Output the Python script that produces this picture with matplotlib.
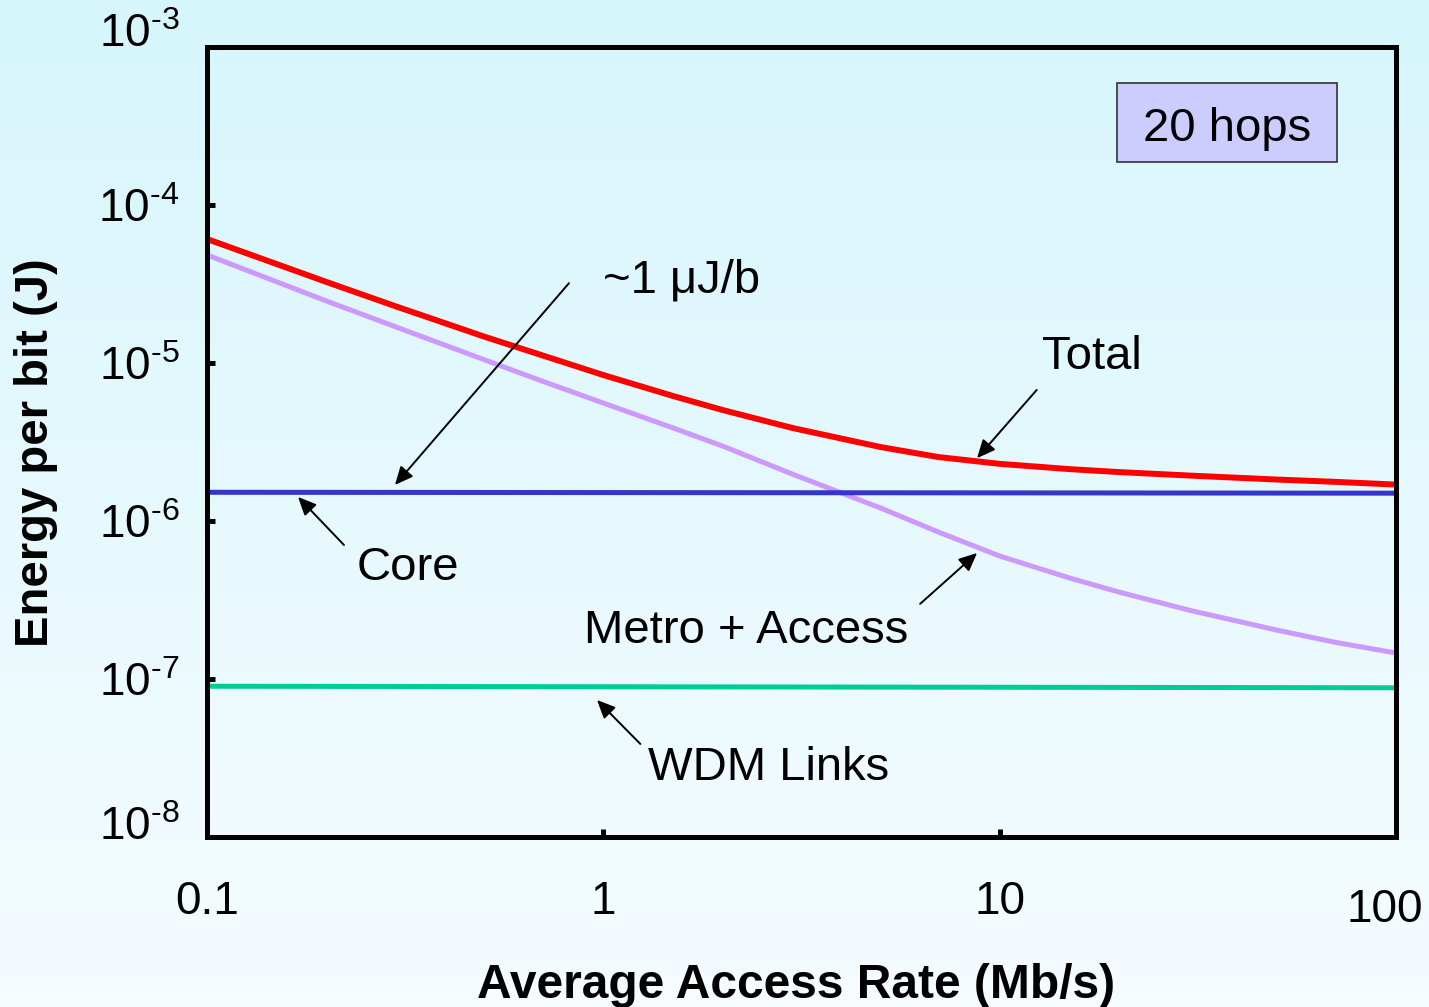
import matplotlib
matplotlib.use('Agg')
import matplotlib.pyplot as plt
import numpy as np
from matplotlib.patches import Rectangle
from matplotlib.transforms import ScaledTranslation

plt.rcParams['font.family'] = ['Liberation Sans', 'DejaVu Sans']
plt.rcParams['mathtext.fontset'] = 'custom'
plt.rcParams['mathtext.rm'] = 'Liberation Sans'
plt.rcParams['mathtext.it'] = 'Liberation Sans:italic'
plt.rcParams['mathtext.bf'] = 'Liberation Sans:bold'

# energy per bit (J) versus average access rate (Mb/s), 20 hops
rate = [0.1, 0.2, 0.3, 0.5, 0.7, 1, 1.5, 2, 3, 5, 7, 10, 15, 20, 30, 50, 70, 100]
total = [6.09e-5, 3.26e-5, 2.28e-5, 1.47e-5, 1.12e-5, 8.39e-6, 6.18e-6, 5.04e-6, 3.88e-6,
         2.94e-6, 2.54e-6, 2.30e-6, 2.13e-6, 2.04e-6, 1.94e-6, 1.83e-6, 1.77e-6, 1.70e-6]
metro_access = [4.83e-5, 2.47e-5, 1.69e-5, 1.05e-5, 7.69e-6, 5.58e-6, 3.88e-6, 2.98e-6, 1.98e-6,
                1.21e-6, 8.52e-7, 6.00e-7, 4.36e-7, 3.55e-7, 2.73e-7, 2.04e-7, 1.71e-7, 1.46e-7]
rate_ends = [0.1, 100]
core = [1.52e-6, 1.50e-6]
wdm = [9.0e-8, 8.8e-8]

xticks = [0.1, 1, 10, 100]
xtick_labels = ['0.1', '1', '10', '100']
yticks = [1e-8, 1e-7, 1e-6, 1e-5, 1e-4, 1e-3]
ytick_labels = [r'$\mathregular{10^{\text{-%d}}}$' % k for k in [8, 7, 6, 5, 4, 3]]

W, H = 1429, 1007
fig = plt.figure(figsize=(W / 100, H / 100), dpi=100)

# pale cyan wash behind everything
bg = fig.add_axes([0, 0, 1, 1], zorder=-1)
top = np.array([214, 246, 252]) / 255
bottom = np.array([246, 252, 255]) / 255
t = np.linspace(0, 1, 256)[:, None]
grad = top * (1 - t) + bottom * t
bg.imshow(grad[:, None, :], aspect='auto', extent=[0, 1, 0, 1])
bg.axis('off')

ax = fig.add_axes([207 / W, 1 - 837 / H, (1396 - 207) / W, (837 - 47) / H])
ax.set_facecolor('none')

ax.plot(rate_ends, wdm, color='#00CC99', lw=3.6, solid_capstyle='butt')
ax.plot(rate, metro_access, color='#CC99FF', lw=3.6, solid_capstyle='butt')
ax.plot(rate_ends, core, color='#3535C8', lw=3.6, solid_capstyle='butt')
ax.plot(rate, total, color='#FF0000', lw=4.3, solid_capstyle='butt')

ax.set_xscale('log')
ax.set_yscale('log')
ax.set_xlim(0.1, 100)
ax.set_ylim(1e-8, 1e-3)
ax.minorticks_off()
ax.set_xticks(xticks)
ax.set_xticklabels(xtick_labels, family=['Liberation Sans Narrow', 'Liberation Sans'], fontsize=33)
ax.set_yticks(yticks)
ax.set_yticklabels(ytick_labels, fontsize=33)
ax.tick_params(axis='both', direction='in', length=6, width=3.6, color='black')
ax.tick_params(axis='x', pad=31)
ax.tick_params(axis='y', pad=20)
for s in ax.spines.values():
    s.set_linewidth(3.6)
    s.set_color('black')

# nudge the end labels the way the slide had them
ylabs = ax.get_yticklabels()
ylabs[-1].set_transform(ylabs[-1].get_transform() + ScaledTranslation(0, 17 / 100, fig.dpi_scale_trans))
ylabs[0].set_transform(ylabs[0].get_transform() + ScaledTranslation(0, 14 / 100, fig.dpi_scale_trans))
xlabs = ax.get_xticklabels()
xlabs[-1].set_transform(xlabs[-1].get_transform() + ScaledTranslation(-11 / 100, -8 / 100, fig.dpi_scale_trans))

fig.text(796 / W, 1 - 998 / H, 'Average Access Rate (Mb/s)', fontsize=34.5,
         fontweight='bold', ha='center', va='baseline')
fig.text(36 / W, 1 - 453 / H, 'Energy per bit (J)', fontsize=34,
         fontweight='bold', ha='center', va='center', rotation=90)

arrow = dict(arrowstyle='-|>,head_length=0.55,head_width=0.25', color='black',
             lw=1.4, shrinkA=0, shrinkB=0, mutation_scale=20)

# (text, text anchor, arrow tail, arrow tip) in data coordinates
notes = [
    ('~1 \u03bcJ/b', (1.0, 2.81e-5), (0.819, 3.2e-5), (0.298, 1.69e-6)),
    ('Total', (12.8, 9.16e-6), (12.4, 6.75e-6), (8.77, 2.5e-6)),
    ('Core', (0.238, 4.24e-7), (0.2216, 7.05e-7), (0.1697, 1.42e-6)),
    ('Metro + Access', (0.894, 1.69e-7), (6.3, 2.99e-7), (8.77, 6.27e-7)),
    ('WDM Links', (1.30, 2.3e-8), (1.24, 3.88e-8), (0.964, 7.36e-8)),
]
for label, pos, tail, tip in notes:
    ax.annotate('', xy=tip, xytext=tail, arrowprops=arrow)
    ax.text(pos[0], pos[1], label, fontsize=34, ha='left', va='baseline')

# "20 hops" box
fig.patches.append(Rectangle((1117 / W, 1 - 162 / H), 220 / W, 79 / H,
                             transform=fig.transFigure, facecolor='#CCCCFF',
                             edgecolor='#333333', lw=1.2))
fig.text(1227 / W, 1 - 141 / H, '20 hops', fontsize=34, ha='center', va='baseline')

fig.savefig('out.png', dpi=100)
